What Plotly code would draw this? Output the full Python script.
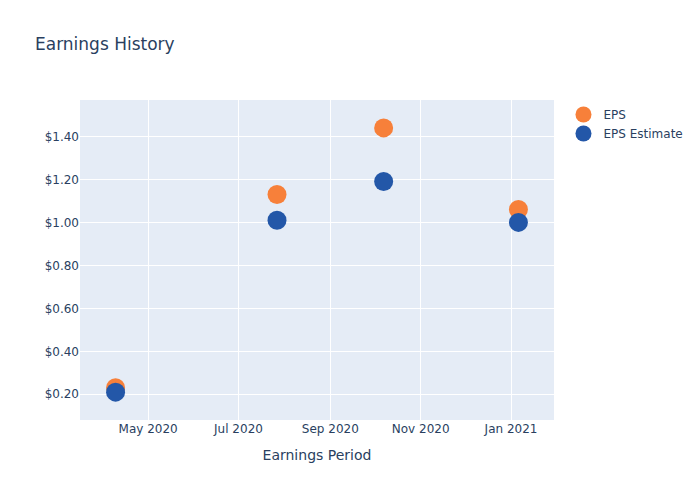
import plotly.graph_objects as go

dates = ["2020-04-09", "2020-07-27", "2020-10-07", "2021-01-06"]
eps = [0.23, 1.13, 1.44, 1.06]
eps_estimate = [0.21, 1.01, 1.19, 1.00]

fig = go.Figure()
fig.add_trace(go.Scatter(x=dates, y=eps, mode="markers", name="EPS",
                         marker=dict(color="#F7803A", size=19)))
fig.add_trace(go.Scatter(x=dates, y=eps_estimate, mode="markers", name="EPS Estimate",
                         marker=dict(color="#2357A8", size=19)))
fig.update_layout(
    width=700, height=500,
    font=dict(family="DejaVu Sans"),
    title=dict(text="Earnings History"),
    xaxis=dict(title=dict(text="Earnings Period")),
    yaxis=dict(tickprefix="$", tickformat=".2f"),
)
fig.write_html("out.html", config={"displayModeBar": False},
               post_script="document.body.style.margin='0';")
